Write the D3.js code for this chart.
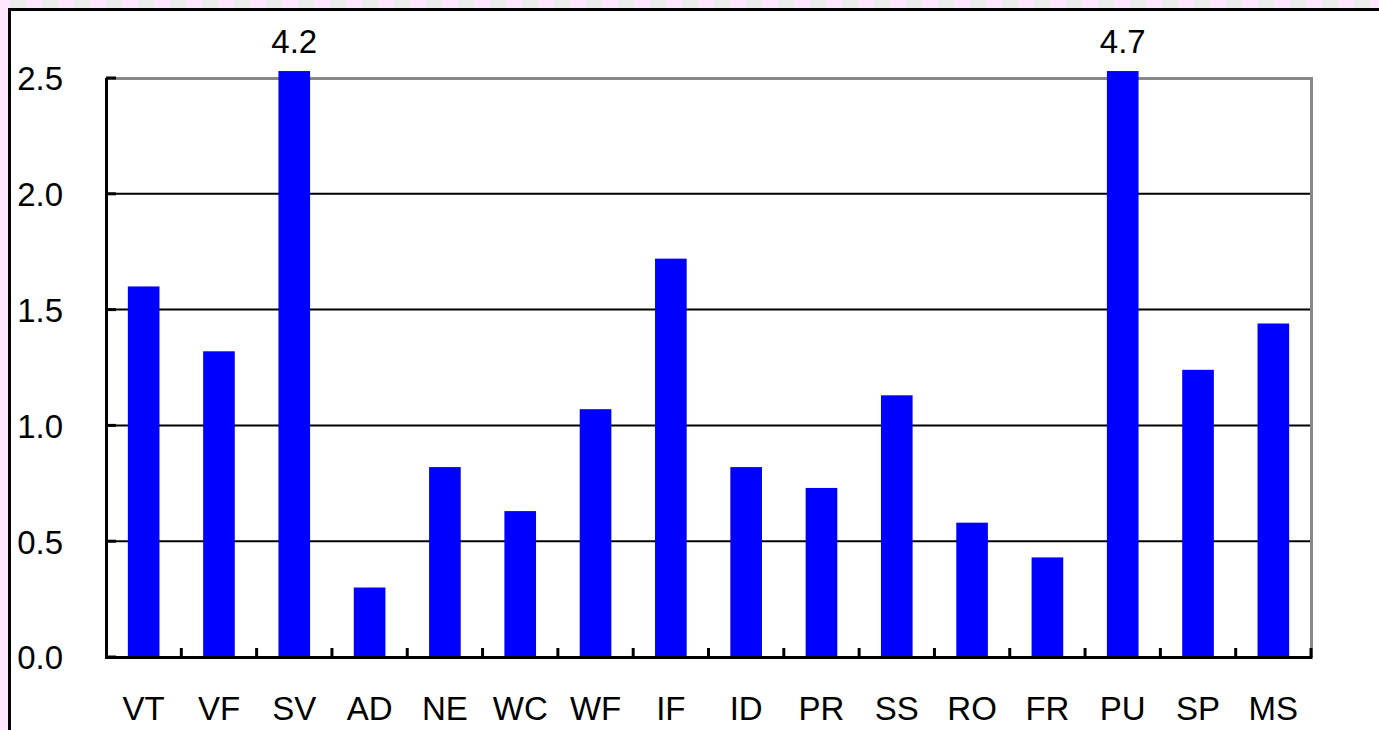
<!DOCTYPE html>
<html>
<head>
<meta charset="utf-8">
<script src="https://cdn.jsdelivr.net/npm/d3@7"></script>
<style>
  html, body { margin: 0; padding: 0; background: #fff; overflow: hidden; }
  svg { display: block; }
  text { font-family: "Liberation Sans", Arial, sans-serif; fill: #000; }
</style>
</head>
<body>
<script>
// data
var categories = ["VT","VF","SV","AD","NE","WC","WF","IF","ID","PR","SS","RO","FR","PU","SP","MS"];
var values = [1.6, 1.32, 4.2, 0.3, 0.82, 0.63, 1.07, 1.72, 0.82, 0.73, 1.13, 0.58, 0.43, 4.7, 1.24, 1.44];
var yTicks = [0, 0.5, 1.0, 1.5, 2.0, 2.5];

var width = 1379, height = 730;
var plotL = 106, plotR = 1311, plotT = 78, plotB = 657;
var yMax = 2.5, clipMax = 2.53;

var svg = d3.select('body').append('svg').attr('width', width).attr('height', height);

// background strips (pink / grey checker on top, pink on the left)
svg.append('rect').attr('x', 0).attr('y', 0).attr('width', width).attr('height', height).attr('fill', '#ffe6ff');
for (var cx = 10; cx < width; cx += 32) {
    svg.append('rect').attr('x', cx).attr('y', 0).attr('width', 16).attr('height', 8).attr('fill', '#ebebeb');
}
svg.append('rect').attr('x', 8).attr('y', 8).attr('width', width).attr('height', height).attr('fill', '#fff');
svg.append('path').attr('d', 'M9.5,' + height + 'V9.5H' + width)
    .attr('fill', 'none').attr('stroke', '#000').attr('stroke-width', 3);

var xScale = d3.scaleBand().domain(categories).range([plotL, plotR]).padding(0);
var yScale = d3.scaleLinear().domain([0, yMax]).range([plotB, plotT]);

// gridlines
svg.append('g').selectAll('line').data(yTicks.filter(function(d) { return d > 0 && d < yMax; }))
    .enter().append('line')
    .attr('x1', plotL).attr('x2', plotR)
    .attr('y1', function(d) { return yScale(d); })
    .attr('y2', function(d) { return yScale(d); })
    .attr('stroke', '#000').attr('stroke-width', 2);

// plot border top/right (gray)
svg.append('path').attr('d', 'M' + plotL + ',' + (plotT + 0.5) + 'H' + (plotR + 0.5) + 'V' + plotB)
    .attr('fill', 'none').attr('stroke', '#888').attr('stroke-width', 3);

// bars
var barW = xScale.step() * 0.42;
svg.append('g').selectAll('rect').data(values).enter().append('rect')
    .attr('x', function(d, i) { return xScale(categories[i]) + xScale.bandwidth() / 2 - barW / 2; })
    .attr('y', function(d) { return yScale(Math.min(d, clipMax)); })
    .attr('width', barW)
    .attr('height', function(d) { return plotB - yScale(Math.min(d, clipMax)); })
    .attr('fill', '#0000ff');

// labels for bars over the axis max
svg.append('g').selectAll('text').data(values.map(function(d, i) { return {v: d, c: categories[i]}; })
        .filter(function(d) { return d.v > yMax; }))
    .enter().append('text')
    .attr('x', function(d) { return xScale(d.c) + xScale.bandwidth() / 2; })
    .attr('y', 53)
    .attr('text-anchor', 'middle')
    .attr('font-size', 33)
    .text(function(d) { return d.v.toFixed(1); });

// y axis
var yAxis = d3.axisLeft(yScale).tickValues(yTicks).tickFormat(d3.format('.1f')).tickSize(0).tickPadding(0);
var yG = svg.append('g').call(yAxis);
yG.select('.domain').remove();
yG.selectAll('text').attr('x', 63).attr('dy', '0.36em').attr('font-size', 33).attr('font-family', null).attr('fill', '#000');
// inner y ticks
svg.append('g').selectAll('line').data(yTicks).enter().append('line')
    .attr('x1', plotL).attr('x2', plotL + 10)
    .attr('y1', function(d) { return yScale(d); })
    .attr('y2', function(d) { return yScale(d); })
    .attr('stroke', '#000').attr('stroke-width', 3);

// x axis
var xAxis = d3.axisBottom(xScale).tickSize(0).tickPadding(0);
var xG = svg.append('g').attr('transform', 'translate(0,' + plotB + ')').call(xAxis);
xG.select('.domain').remove();
xG.selectAll('text').attr('y', 63).attr('dy', null).attr('font-size', 33).attr('font-family', null).attr('fill', '#000');

// category boundary ticks
var bounds = categories.slice(1).map(function(c) { return xScale(c); }).concat([plotR]);
svg.append('g').selectAll('line').data(bounds).enter().append('line')
    .attr('x1', function(d) { return d; }).attr('x2', function(d) { return d; })
    .attr('y1', plotB).attr('y2', plotB - 9)
    .attr('stroke', '#000').attr('stroke-width', 3);

// axis lines
svg.append('path').attr('d', 'M' + (plotL + 0.5) + ',' + plotT + 'V' + (plotB + 0.5) + 'H' + (plotR + 1.5))
    .attr('fill', 'none').attr('stroke', '#000').attr('stroke-width', 3);
</script>
</body>
</html>
